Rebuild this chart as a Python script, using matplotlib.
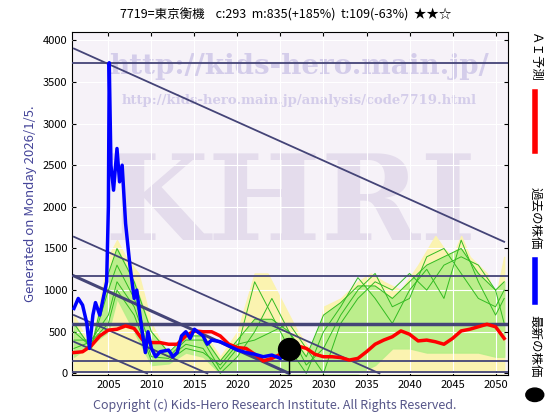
import numpy as np
import matplotlib
matplotlib.use('Agg')
import matplotlib.pyplot as plt

plt.rcParams['font.family'] = ['Noto Sans CJK JP', 'DejaVu Sans']

# past price (blue)
past_x = [2001, 2001.5, 2002, 2002.5, 2002.8, 2003.2, 2003.5, 2004, 2004.5, 2004.8, 2005.0, 2005.1,
          2005.3, 2005.6, 2006, 2006.3, 2006.6, 2007, 2007.5, 2008, 2008.3, 2008.6, 2009, 2009.3,
          2009.6, 2010, 2010.5, 2011, 2012, 2012.5, 2013, 2013.5, 2014, 2014.5, 2015, 2016, 2016.5,
          2017, 2018, 2019, 2020, 2021, 2022, 2023, 2024, 2025, 2025.5]
past_y = [780, 900, 820, 600, 300, 700, 850, 700, 950, 1100, 2000, 3730,
          2500, 2200, 2700, 2300, 2500, 1800, 1300, 900, 1000, 750, 450, 250,
          500, 300, 200, 260, 280, 200, 250, 450, 500, 420, 530, 450, 350,
          400, 380, 330, 280, 250, 230, 200, 220, 180, 230]

# AI forecast (red)
ai_x = list(range(2001, 2052))
ai_y = [250, 260, 330, 450, 520, 530, 570, 540, 400, 370, 370, 350, 350, 450, 510, 500, 500, 450,
        350, 310, 300, 230, 150, 180, 230, 280, 330, 300, 230, 200, 200, 190, 160, 180, 260, 350,
        400, 440, 510, 470, 390, 400, 380, 350, 420, 510, 530, 560, 590, 560, 420]

# yellow envelope
yel_x = [2001, 2003, 2005, 2006, 2007, 2008.5, 2010, 2012, 2014, 2016, 2018, 2020, 2022, 2023.5,
         2025, 2027, 2029, 2030, 2032, 2034, 2035.5, 2037, 2039, 2041, 2043, 2044, 2045, 2046,
         2047, 2049, 2050, 2051]
yel_hi = [700, 300, 1400, 1600, 1400, 1200, 600, 200, 500, 500, 200, 500, 1200, 1200,
          900, 500, 200, 800, 900, 1100, 1200, 1100, 1000, 1300, 1650, 1500, 1400, 1650,
          1400, 1200, 900, 1400]

# green band
grn_x = [2001, 2003, 2005, 2006, 2008, 2010, 2012, 2014, 2016, 2018, 2020, 2022, 2024, 2026,
         2028, 2030, 2032, 2034, 2036, 2038, 2040, 2042, 2044, 2046, 2048, 2050, 2051]
grn_hi = [600, 300, 1200, 1500, 1100, 500, 250, 450, 450, 150, 400, 650, 650, 500,
          200, 700, 850, 1050, 1050, 900, 1100, 1300, 1400, 1500, 1200, 1000, 1100]
grn_lo = [200, 350, 500, 900, 500, 100, 120, 250, 200, 0, 0, 0, 0, 0,
          0, 0, 0, 0, 100, 300, 300, 250, 250, 250, 250, 200, 200]

# a few simulated paths
sim_x = [2001, 2003, 2005, 2006, 2008, 2010, 2012, 2014, 2016, 2018, 2020, 2022, 2024, 2026,
         2028, 2030, 2032, 2034, 2036, 2038, 2040, 2042, 2044, 2046, 2048, 2050, 2051]
sim1 = [500, 320, 1000, 1300, 900, 300, 200, 400, 400, 50, 300, 1100, 700, 300,
        0, 500, 800, 1150, 900, 600, 1000, 1250, 900, 1600, 1100, 700, 900]
sim2 = [400, 400, 700, 1100, 800, 200, 180, 350, 300, 0, 200, 500, 900, 500,
        100, 300, 700, 1000, 1200, 800, 900, 1400, 1500, 1200, 900, 800, 1000]
sim3 = [300, 380, 600, 1000, 700, 150, 150, 300, 250, 100, 350, 400, 500, 600,
        300, 0, 600, 900, 1100, 1000, 1200, 1000, 1300, 1400, 1300, 1000, 600]

hlines = [3730, 1170, 590, 150, 20]
diag = [((2001, 3900), (2051, 1580)), ((2001, 1640), (2036.5, 0)),
        ((2001, 700), (2016.5, 0)), ((2001, 380), (2009.5, 0))]

fig = plt.figure(figsize=(5.6, 4.2), dpi=100)
ax = fig.add_axes([0.129, 0.107, 0.779, 0.817])
ax.set_facecolor('#f6f2f8')
ax.set_xlim(2000.8, 2051.5)
ax.set_ylim(-20, 4100)

# watermarks
ax.text(0.5, 0.49, 'KHRI', transform=ax.transAxes, ha='center', va='center', fontsize=86,
        color='#e4dcec', family='DejaVu Serif', weight='bold', zorder=0)
ax.text(0.52, 0.9, 'http://kids-hero.main.jp/', transform=ax.transAxes, ha='center', va='center',
        fontsize=20, color='#d4cdea', family='DejaVu Serif', weight='bold', zorder=0)
ax.text(0.52, 0.8, 'http://kids-hero.main.jp/analysis/code7719.html', transform=ax.transAxes,
        ha='center', va='center', fontsize=9.5, color='#d4cdea', family='DejaVu Serif',
        weight='bold', zorder=0)

ax.fill_between(yel_x, 0, yel_hi, color='#fbf3b0', zorder=1)
ax.fill_between(grn_x, grn_lo, grn_hi, color='#b6ee88', alpha=0.9, zorder=2)
ax.plot(grn_x, grn_hi, color='#33bb22', lw=0.7, zorder=3)
for s in (sim1, sim2, sim3):
    ax.plot(sim_x, s, color='#33bb22', lw=0.7, zorder=3)

for h in hlines:
    ax.axhline(h, color='#444477', lw=2.5 if h == 590 else 1.3, zorder=4)
for (x0, y0), (x1, y1) in diag:
    ax.plot([x0, x1], [y0, y1], color='#444477', lw=1.3, zorder=4)
ax.plot([2001, 2026], [1170, 0], color='#444477', lw=2.2, zorder=4)

ax.plot(ai_x, ai_y, color='red', lw=2.5, zorder=5)
ax.plot(past_x, past_y, color='blue', lw=2.5, zorder=6)
ax.plot([2026, 2026], [0, 290], color='black', lw=1, zorder=6)
ax.scatter([2026], [290], s=250, color='black', zorder=7)

ax.grid(True, color='white', lw=0.8)
ax.set_axisbelow(False)
ax.set_xticks(range(2005, 2051, 5))
ax.set_yticks(range(0, 4001, 500))
ax.tick_params(labelsize=8, length=3, direction='in', top=True, right=True)
ax.set_ylabel('Generated on Monday 2026/1/5.', color='#444499', fontsize=9.5)

fig.text(0.51, 0.955, '7719=東京衡機    c:293  m:835(+185%)  t:109(-63%)  ★★☆',
         ha='center', fontsize=9)
fig.text(0.49, 0.025, 'Copyright (c) Kids-Hero Research Institute. All Rights Reserved.',
         ha='center', fontsize=9, color='#555588')

# side legend
fig.text(0.955, 0.865, 'ＡＩ予測', rotation=270, ha='center', va='center', fontsize=9)
fig.lines.append(plt.Line2D([0.955, 0.955], [0.64, 0.78], transform=fig.transFigure, color='red', lw=4))
fig.text(0.955, 0.48, '過去の株価', rotation=270, ha='center', va='center', fontsize=9)
fig.lines.append(plt.Line2D([0.955, 0.955], [0.28, 0.38], transform=fig.transFigure, color='blue', lw=4))
fig.text(0.955, 0.175, '最新の株価', rotation=270, ha='center', va='center', fontsize=9)
fig.add_artist(plt.Circle((0.955, 0.06), 0.016, transform=fig.transFigure, color='black'))

fig.savefig('out.png', dpi=100)
